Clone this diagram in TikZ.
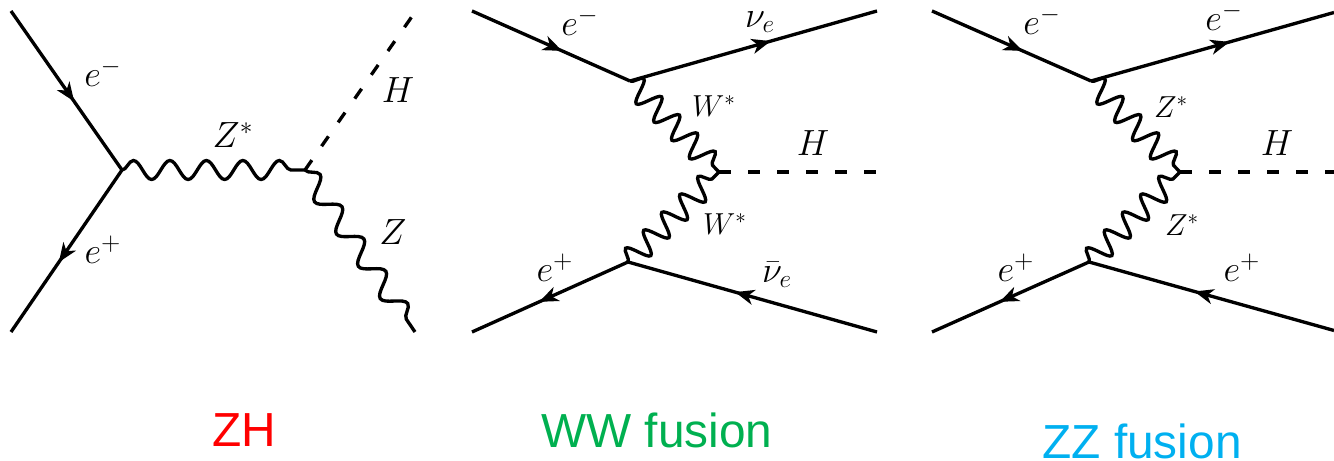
\documentclass[tikz,border=0pt]{standalone}
\usepackage{fontspec}
\setsansfont{Liberation Sans}
\usetikzlibrary{arrows.meta,decorations.markings,decorations.pathmorphing}
\definecolor{wwgreen}{HTML}{00B050}
\definecolor{zzblue}{HTML}{00B0F0}
\tikzset{
  fermion/.style={line width=1.9pt, postaction={decorate},
    decoration={markings, mark=at position .57 with {\arrow{Stealth[length=.38cm,width=.3cm,inset=.11cm]}}}},
  photon/.style 2 args={line width=1.9pt, decorate,
    decoration={snake, segment length=#1, amplitude=#2}},
  higgs/.style={line width=1.9pt, dash pattern=on .24cm off .34cm},
  lbl/.style={font=\fontsize{20.5}{24}\selectfont, inner sep=0pt},
  smalllbl/.style={font=\fontsize{17}{20}\selectfont, inner sep=0pt},
  title/.style={font=\fontsize{27.2}{32}\selectfont\sffamily, inner sep=0pt}
}
\begin{document}
\begin{tikzpicture}
\useasboundingbox (0,0) rectangle (26.68,9.22);

% ZH
\coordinate (zhin1) at (0.22,9.0);
\coordinate (zhin2) at (0.22,2.58);
\coordinate (zhv1) at (2.44,5.82);
\coordinate (zhv2) at (6.1,5.82);
\coordinate (zhH) at (8.26,8.92);
\coordinate (zhZ) at (8.3,2.58);
\draw[fermion] (zhin1) -- (zhv1);
\draw[fermion] (zhv1) -- (zhin2);
\draw[photon={.73cm}{.19cm}] (zhv1) -- (zhv2);
\draw[photon={.78cm}{.2cm}] (zhv2) -- (zhZ);
\draw[higgs] (zhv2) -- (zhH);
\node[lbl] (zhem) at (2.06,7.76) {$e^-$};
\node[lbl] (zhep) at (2.06,4.22) {$e^+$};
\node[lbl] (zhzs) at (4.66,6.52) {$Z^*$};
\node[lbl] (zhh) at (7.96,7.42) {$H$};
\node[lbl] (zhz) at (7.86,4.58) {$Z$};

% WW fusion
\coordinate (wwin1) at (9.44,9.0);
\coordinate (wwin2) at (9.44,2.58);
\coordinate (wwout1) at (17.54,9.0);
\coordinate (wwout2) at (17.54,2.58);
\coordinate (wwv1) at (12.6,7.6);
\coordinate (wwv2) at (12.56,3.98);
\coordinate (wwv3) at (14.38,5.78);
\coordinate (wwH) at (17.54,5.78);
\draw[fermion] (wwin1) -- (wwv1);
\draw[fermion] (wwv1) -- (wwout1);
\draw[fermion] (wwv2) -- (wwin2);
\draw[fermion] (wwout2) -- (wwv2);
\draw[photon={.51cm}{.23cm}] (wwv1) -- (wwv3);
\draw[photon={.51cm}{.23cm}] (wwv2) -- (wwv3);
\draw[higgs] (wwv3) -- (wwH);
\node[lbl] (wwem) at (11.6,8.78) {$e^-$};
\node[lbl] (wwnu) at (15.2,8.78) {$\nu_e$};
\node[smalllbl] (wwws1) at (14.28,7.1) {$W^*$};
\node[lbl] (wwh) at (16.26,6.36) {$H$};
\node[smalllbl] (wwws2) at (14.5,4.74) {$W^*$};
\node[lbl] (wwep) at (11.1,3.86) {$e^+$};
\node[lbl] (wwnub) at (15.54,3.72) {$\bar{\nu}_e$};

% ZZ fusion
\coordinate (zzin1) at (18.64,9.0);
\coordinate (zzin2) at (18.64,2.58);
\coordinate (zzout1) at (26.68,8.97);
\coordinate (zzout2) at (26.68,2.61);
\coordinate (zzv1) at (21.82,7.6);
\coordinate (zzv2) at (21.78,3.98);
\coordinate (zzv3) at (23.6,5.78);
\coordinate (zzH) at (26.68,5.78);
\draw[fermion] (zzin1) -- (zzv1);
\draw[fermion] (zzv1) -- (zzout1);
\draw[fermion] (zzv2) -- (zzin2);
\draw[fermion] (zzout2) -- (zzv2);
\draw[photon={.51cm}{.23cm}] (zzv1) -- (zzv3);
\draw[photon={.51cm}{.23cm}] (zzv2) -- (zzv3);
\draw[higgs] (zzv3) -- (zzH);
\node[lbl] (zzem1) at (20.84,8.8) {$e^-$};
\node[lbl] (zzem2) at (24.48,8.88) {$e^-$};
\node[smalllbl] (zzzs1) at (23.42,7.08) {$Z^*$};
\node[lbl] (zzh) at (25.54,6.36) {$H$};
\node[smalllbl] (zzzs2) at (23.64,4.72) {$Z^*$};
\node[lbl] (zzep1) at (20.32,3.86) {$e^+$};
\node[lbl] (zzep2) at (24.84,3.86) {$e^+$};

% Titles
\node[title, red] (zhtitle) at (4.88,0.62) {ZH};
\node[title, wwgreen] (wwtitle) at (13.14,0.62) {WW fusion};
\node[title, zzblue] (zztitle) at (22.84,0.4) {ZZ fusion};
\end{tikzpicture}
\end{document}
